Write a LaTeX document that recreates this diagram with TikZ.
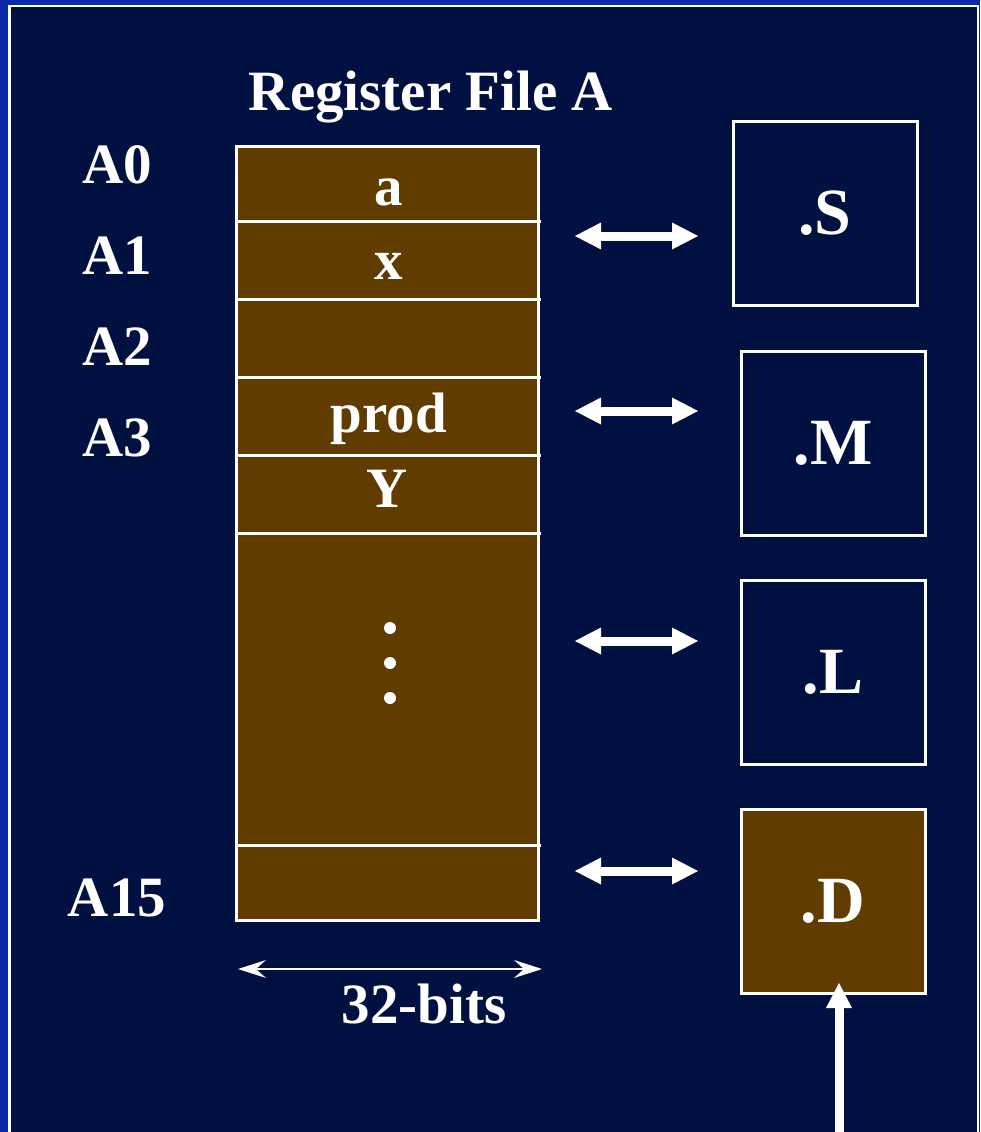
\documentclass[tikz,border=0pt]{standalone}
\usepackage{fontspec}
\setmainfont{Liberation Serif}
\usetikzlibrary{arrows.meta}

\definecolor{navy}{RGB}{0,16,64}
\definecolor{frameblue}{RGB}{10,42,166}
\definecolor{regbrown}{RGB}{96,60,0}

\tikzset{
  lbl/.style={text=white, inner sep=0pt, anchor=base,
    font=\bfseries\fontsize{57}{60}\selectfont},
  unitbox/.style={draw=white, line width=3pt, inner sep=0pt, outer sep=0pt,
    minimum width=184pt, minimum height=184pt, text=white,
    font=\bfseries\fontsize{66}{70}\selectfont},
  rowline/.style={white, line width=3pt},
  busarrow/.style={white, line width=9pt,
    {Triangle[length=26pt,width=27pt,line width=0pt]}-{Triangle[length=26pt,width=27pt,line width=0pt]}},
  widtharrow/.style={white, line width=2.5pt,
    {Stealth[length=28pt,width=18pt,inset=10pt,line width=0pt]}-{Stealth[length=28pt,width=18pt,inset=10pt,line width=0pt]}},
  inarrow/.style={white, line width=9pt,
    -{Triangle[length=25pt,width=26pt,line width=0pt]}}
}

\begin{document}
\begin{tikzpicture}[x=1pt, y=-1pt]
  \useasboundingbox (0,0) rectangle (980,1132);

  % Slide frame
  \fill[frameblue] (0,0) rectangle (980,1132);
  \fill[navy] (9,6) rectangle (978,1140);
  \draw[white, line width=2.5pt] (9.5,1140) -- (9.5,6) -- (978,6) -- (978,1140);

  % Title
  \node[lbl] (title) at (431,110) {Register File A};

  % Register file
  \node[draw=white, fill=regbrown, line width=3pt, inner sep=0pt, outer sep=0pt,
        minimum width=302pt, minimum height=774pt] (rf) at (387,533) {};
  \foreach \y in {221.5,299,377,455.5,533,845} {
    \draw[rowline] (236,\y) -- (541,\y);
  }

  % Register contents
  \node[lbl] (ra) at (389,205) {a};
  \node[lbl] (rx) at (389,279) {x};
  \node[lbl] (rprod) at (389,432) {prod};
  \node[lbl] (ry) at (387,507) {Y};
  \foreach \y in {628,663,698} {
    \fill[white] (390,\y) circle (6);
  }

  % Register names
  \node[lbl] (a0) at (117,183) {A0};
  \node[lbl] (a1) at (117,274) {A1};
  \node[lbl] (a2) at (117,365) {A2};
  \node[lbl] (a3) at (117,456) {A3};
  \node[lbl] (a15) at (117,916) {A15};

  % Functional units
  \node[unitbox] (S) at (825,213.5) {.S};
  \node[unitbox] (M) at (833,443) {.M};
  \node[unitbox] (L) at (833,672) {.L};
  \node[unitbox, fill=regbrown] (D) at (833,901) {.D};

  % Data paths
  \foreach \n/\y in {s/236,m/411,l/641,d/871} {
    \coordinate (\n from) at (575,\y);
    \coordinate (\n to) at (698,\y);
    \draw[busarrow] (\n from) -- (\n to);
  }

  % Word width
  \coordinate (wl) at (238,969);
  \coordinate (wr) at (542,969);
  \draw[widtharrow] (wl) -- (wr);
  \node[lbl] (bits) at (424,1023) {32-bits};

  % Input to .D
  \coordinate (din) at (839,1140);
  \draw[inarrow] (din) -- ([yshift=10pt]din |- D.south);

\end{tikzpicture}
\end{document}
